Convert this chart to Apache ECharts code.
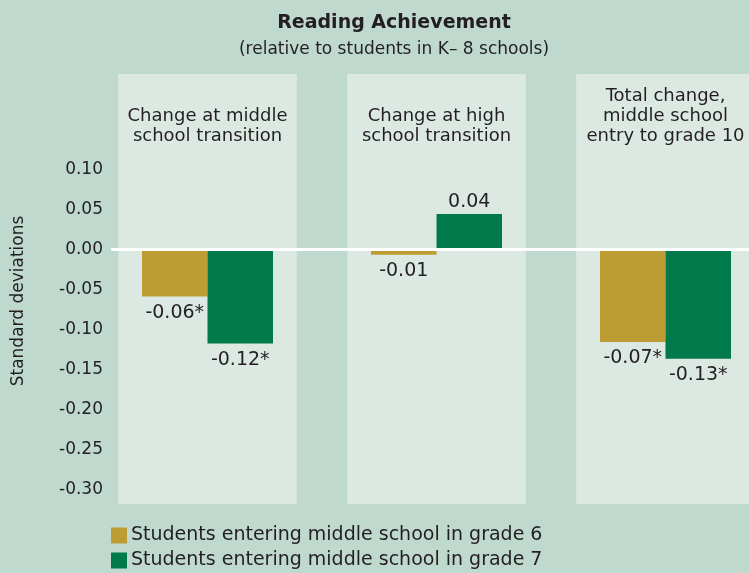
<!DOCTYPE html>
<html>
<head>
<meta charset="utf-8">
<script src="https://cdn.jsdelivr.net/npm/echarts@6/dist/echarts.min.js"></script>
<style>
  html, body { margin: 0; padding: 0; background: #bfd9ce; }
  #chart { width: 749px; height: 573px; }
</style>
</head>
<body>
<div id="chart"></div>
<script>
var categories = ['Change at middle\nschool transition', 'Change at high\nschool transition', 'Total change,\nmiddle school\nentry to grade 10'];
var seriesNames = ['Students entering middle school in grade 6', 'Students entering middle school in grade 7'];
// bar heights as drawn in the picture
var grade6 = [-0.058, -0.006, -0.115];
var grade7 = [-0.117, 0.045, -0.136];
// printed labels (the original prints these, not the drawn heights)
var grade6Labels = ['-0.06*', '-0.01', '-0.07*'];
var grade7Labels = ['-0.12*', '0.04', '-0.13*'];

var FONT = 'DejaVu Sans';
var TEXT = '#231f20';
var PANEL_TOP = 0.22, PANEL_BOTTOM = -0.3175, HEADER_BASE = 0.13;

var chart = echarts.init(document.getElementById('chart'));

function barData(values) {
  return values.map(function (v) {
    return {
      value: v,
      label: { position: v < 0 ? 'bottom' : 'top', distance: v < 0 ? 7 : 2 }
    };
  });
}

// light panel behind each category, with its heading
function panelItem(params, api) {
  var i = api.value(0);
  var band = api.size([1, 0])[0];
  var pw = band * 0.78;
  var c = api.coord([i, PANEL_TOP]);
  var b = api.coord([i, PANEL_BOTTOM]);
  var h = api.coord([i, HEADER_BASE]);
  return {
    type: 'group',
    children: [
      {
        type: 'rect',
        shape: { x: c[0] - pw / 2, y: c[1], width: pw, height: b[1] - c[1] },
        style: { fill: '#dce9e2' }
      },
      {
        type: 'text',
        x: c[0],
        y: h[1],
        style: {
          text: categories[i],
          fontFamily: FONT,
          fontSize: 18,
          lineHeight: 20,
          fill: TEXT,
          align: 'center',
          verticalAlign: 'bottom'
        }
      }
    ]
  };
}

function zeroLineItem(params, api) {
  var i = api.value(0);
  var band = api.size([1, 0])[0];
  var pw = band * 0.78;
  var c = api.coord([i, 0]);
  var x1 = i === 0 ? c[0] - pw / 2 - 7 : c[0] - band / 2;
  return {
    type: 'line',
    shape: { x1: x1, y1: c[1] - 0.5, x2: c[0] + band / 2, y2: c[1] - 0.5 },
    style: { stroke: '#ffffff', lineWidth: 3 }
  };
}

var option = {
  backgroundColor: '#bfd9ce',
  animation: false,
  title: {
    text: 'Reading Achievement',
    subtext: '(relative to students in K\u2013 8 schools)',
    left: 389,
    top: 9,
    textAlign: 'center',
    itemGap: 8,
    textStyle: { fontFamily: FONT, fontSize: 19, fontWeight: 'bold', color: TEXT },
    subtextStyle: { fontFamily: FONT, fontSize: 17, color: TEXT }
  },
  legend: {
    data: seriesNames,
    orient: 'vertical',
    left: 111,
    top: 526,
    height: 80,
    padding: 0,
    itemWidth: 16,
    itemHeight: 16,
    itemGap: 6,
    icon: 'rect',
    textStyle: { fontFamily: FONT, fontSize: 19, color: TEXT, padding: [0, 0, 0, -1] }
  },
  grid: { left: 93, width: 687, top: 50, height: 480, outerBoundsMode: 'none', containLabel: false },
  xAxis: {
    type: 'category',
    data: categories,
    axisLine: { show: false, onZero: false },
    axisTick: { show: false },
    axisLabel: { show: false }
  },
  yAxis: {
    type: 'value',
    min: -0.35,
    max: 0.25,
    interval: 0.05,
    offset: -10,
    name: 'Standard deviations',
    nameLocation: 'middle',
    nameGap: 76,
    nameTextStyle: { fontFamily: FONT, fontSize: 17, color: TEXT, padding: [0, 22, 0, 0] },
    axisLine: { show: false },
    axisTick: { show: false },
    splitLine: { show: false },
    axisLabel: {
      margin: 0,
      fontFamily: FONT,
      fontSize: 17,
      color: TEXT,
      formatter: function (v) {
        if (v > 0.101 || v < -0.301) return '';
        return v.toFixed(2);
      }
    }
  },
  series: [
    {
      type: 'custom',
      z: 1,
      silent: true,
      clip: false,
      renderItem: panelItem,
      data: categories.map(function (c, i) { return [i]; })
    },
    {
      name: seriesNames[0],
      type: 'bar',
      z: 2,
      barWidth: 65.5,
      barGap: '0%',
      itemStyle: { color: '#be9c34' },
      label: {
        show: true,
        fontFamily: FONT,
        fontSize: 19,
        color: TEXT,
        formatter: function (p) { return grade6Labels[p.dataIndex]; }
      },
      data: barData(grade6)
    },
    {
      name: seriesNames[1],
      type: 'bar',
      z: 2,
      barWidth: 65.5,
      barGap: '0%',
      itemStyle: { color: '#007a4a' },
      label: {
        show: true,
        fontFamily: FONT,
        fontSize: 19,
        color: TEXT,
        formatter: function (p) { return grade7Labels[p.dataIndex]; }
      },
      data: barData(grade7)
    },
    {
      type: 'custom',
      z: 3,
      silent: true,
      clip: false,
      renderItem: zeroLineItem,
      data: categories.map(function (c, i) { return [i]; })
    }
  ]
};

chart.setOption(option);
</script>
</body>
</html>
